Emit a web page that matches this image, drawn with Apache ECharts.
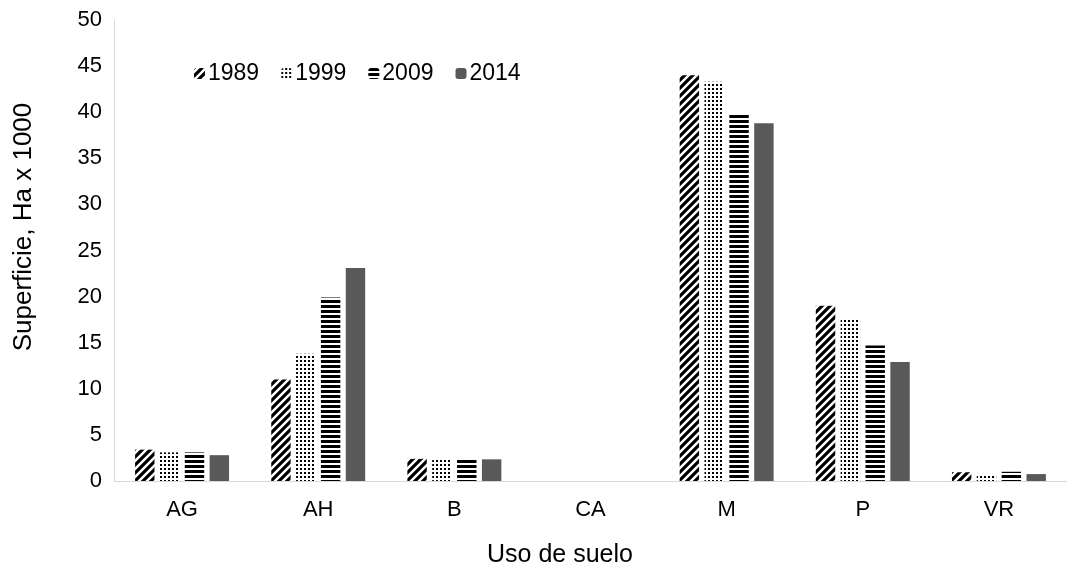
<!DOCTYPE html>
<html>
<head>
<meta charset="utf-8">
<script src="https://cdn.jsdelivr.net/npm/echarts@6/dist/echarts.min.js"></script>
<style>
  html, body { margin: 0; padding: 0; background: #fff; }
  #chart { width: 1067px; height: 571px; }
</style>
</head>
<body>
<div id="chart"></div>
<script>
// Land use categories and surface per year (Ha x 1000)
const categories = ['AG', 'AH', 'B', 'CA', 'M', 'P', 'VR'];
const years = ['1989', '1999', '2009', '2014'];
const v1989 = [3.4, 11.0, 2.4, 0, 44.0, 19.0, 0.95];
const v1999 = [3.1, 13.8, 2.35, 0, 43.3, 17.5, 0.75];
const v2009 = [3.1, 19.9, 2.4, 0, 39.9, 14.7, 1.0];
const v2014 = [2.8, 23.1, 2.35, 0, 38.8, 12.9, 0.75];
const yTicks = [0, 5, 10, 15, 20, 25, 30, 35, 40, 45, 50];

// Small canvas tiles used as repeating fill patterns
function tile(w, h, draw) {
  const c = document.createElement('canvas');
  c.width = w; c.height = h;
  const ctx = c.getContext('2d');
  ctx.fillStyle = '#fff';
  ctx.fillRect(0, 0, w, h);
  ctx.fillStyle = '#000';
  ctx.strokeStyle = '#000';
  draw(ctx, w, h);
  return { image: c, repeat: 'repeat' };
}
const diagonal = tile(8, 8, (ctx, w, h) => {
  ctx.lineWidth = 3.2;
  ctx.beginPath();
  ctx.moveTo(-2, h + 2); ctx.lineTo(w + 2, -2);
  ctx.moveTo(-2, 2); ctx.lineTo(2, -2);
  ctx.moveTo(w - 2, h + 2); ctx.lineTo(w + 2, h - 2);
  ctx.stroke();
});
const dotted = tile(4, 4, (ctx) => {
  ctx.fillRect(0, 0, 2, 2);
});
const hstripes = tile(4, 5, (ctx, w) => {
  ctx.fillRect(0, 0, w, 3);
});
const solid = '#595959';

const fills = [diagonal, dotted, hstripes, solid];
const values = [v1989, v1999, v2009, v2014];

const chart = echarts.init(document.getElementById('chart'), null, { renderer: 'canvas' });
const font = 'Liberation Sans, Arial, sans-serif';

chart.setOption({
  animation: false,
  backgroundColor: '#fff',
  textStyle: { fontFamily: font },
  grid: { left: 114, top: 20, width: 955, height: 461, containLabel: false },
  legend: {
    left: 189, top: 57,
    itemWidth: 11, itemHeight: 11, itemGap: 22,
    textStyle: { fontSize: 23, color: '#000', fontFamily: font, padding: [0, 0, 0, -2] },
    data: years
  },
  xAxis: {
    type: 'category',
    data: categories,
    axisLine: { lineStyle: { color: '#d9d9d9', width: 1 } },
    axisTick: { show: false },
    axisLabel: { fontSize: 22, color: '#000', margin: 18, fontFamily: font }
  },
  yAxis: {
    type: 'value',
    min: 0, max: 50, interval: 5,
    axisLine: { show: true, lineStyle: { color: '#d9d9d9', width: 1 } },
    axisTick: { show: false },
    splitLine: { show: false },
    axisLabel: {
      fontSize: 22, color: '#000', margin: 12, fontFamily: font,
      formatter: (v) => yTicks.includes(v) ? String(v) : ''
    }
  },
  graphic: [{
    type: 'text',
    x: 24, y: 227,
    rotation: Math.PI / 2,
    style: {
      text: 'Superficie, Ha x 1000',
      fontSize: 26, fill: '#000', fontFamily: font,
      align: 'center', verticalAlign: 'middle'
    }
  }, {
    type: 'text',
    x: 560, y: 555,
    style: {
      text: 'Uso de suelo',
      fontSize: 25, fill: '#000', fontFamily: font,
      align: 'center', verticalAlign: 'middle'
    }
  }],
  series: years.map((y, i) => ({
    name: y,
    type: 'bar',
    data: values[i],
    barGap: '28%',
    barCategoryGap: '31%',
    itemStyle: { color: fills[i] }
  }))
});
</script>
</body>
</html>
